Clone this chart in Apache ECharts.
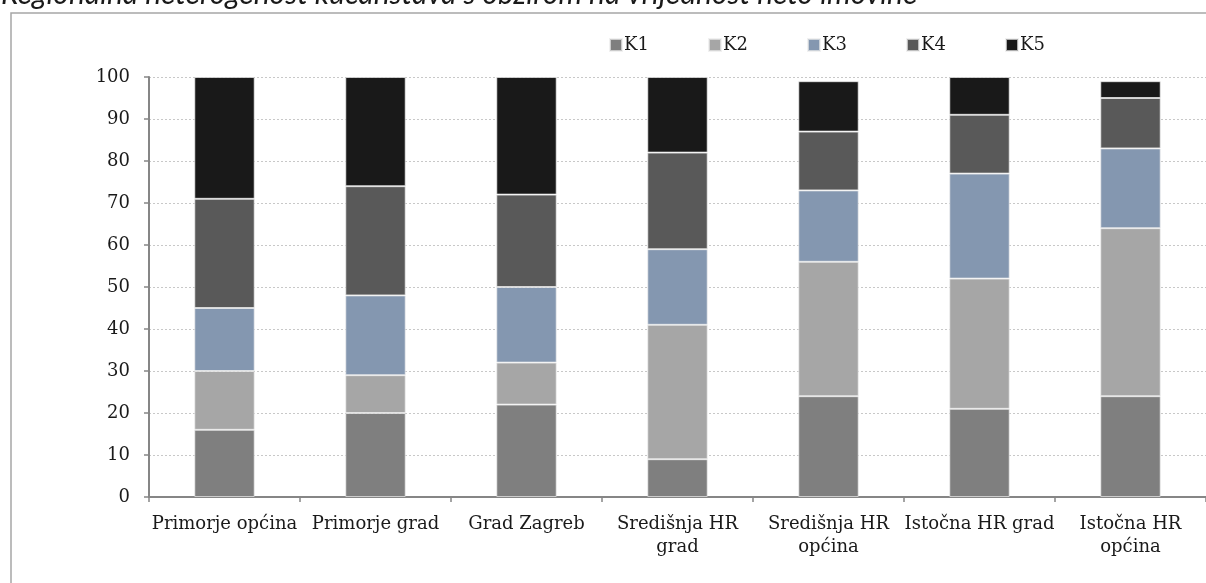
<!DOCTYPE html>
<html>
<head>
<meta charset="utf-8">
<script src="https://cdn.jsdelivr.net/npm/echarts@6/dist/echarts.min.js"></script>
<style>
  html, body { margin: 0; padding: 0; background: #ffffff; }
  #main { width: 1206px; height: 583px; }
</style>
</head>
<body>
<div id="main"></div>
<script>
// kategorije (regije)
var categories = ['Primorje općina', 'Primorje grad', 'Grad Zagreb', 'Središnja HR\ngrad',
  'Središnja HR\nopćina', 'Istočna HR grad', 'Istočna HR\nopćina'];

// udjeli po kvintilima (%)
var k1 = [16, 20, 22, 9, 24, 21, 24];
var k2 = [14, 9, 10, 32, 32, 31, 40];
var k3 = [15, 19, 18, 18, 17, 25, 19];
var k4 = [26, 26, 22, 23, 14, 14, 12];
var k5 = [29, 26, 28, 18, 12, 9, 4];

var seriesNames = ['K1', 'K2', 'K3', 'K4', 'K5'];
var seriesColors = ['#7f7f7f', '#a6a6a6', '#8497b0', '#595959', '#191919'];
var yTicks = [0, 10, 20, 30, 40, 50, 60, 70, 80, 90, 100];

var chart = echarts.init(document.getElementById('main'), null, { renderer: 'canvas' });

var allData = [k1, k2, k3, k4, k5];
var series = [];
var legends = [];
for (var i = 0; i < seriesNames.length; i++) {
  series.push({
    name: seriesNames[i],
    type: 'bar',
    stack: 'ukupno',
    barWidth: '40%',
    data: allData[i],
    itemStyle: {
      color: seriesColors[i],
      borderColor: 'rgba(235,235,235,0.7)',
      borderWidth: 1
    }
  });
  // svaka stavka legende posebno, razmak ~99px
  legends.push({
    data: [seriesNames[i]],
    left: 604 + i * 99,
    top: 31,
    icon: 'rect',
    itemWidth: 12,
    itemHeight: 12,
    itemGap: 0,
    textStyle: { fontFamily: 'DejaVu Serif', fontSize: 18, color: '#1a1a1a', padding: [0, 0, 0, -3] }
  });
}

var option = {
  backgroundColor: '#ffffff',
  animation: false,
  textStyle: { fontFamily: 'DejaVu Serif' },
  graphic: [{
    type: 'rect',
    shape: { x: 11, y: 13, width: 1300, height: 700 },
    style: { fill: 'none', stroke: '#a6a6a6', lineWidth: 1.5 },
    silent: true
  }, {
    // naslov je u izvorniku odrezan na vrhu
    type: 'text',
    x: 1,
    y: 9,
    style: {
      text: 'Regionalna heterogenost kućanstava s obzirom na vrijednost neto imovine',
      font: 'italic 30px Lato',
      fill: '#1a1a1a',
      verticalAlign: 'bottom'
    },
    silent: true
  }],
  legend: legends,
  grid: {
    left: 149,
    top: 77,
    width: 1059,
    height: 420,
    containLabel: false
  },
  xAxis: {
    type: 'category',
    data: categories,
    boundaryGap: true,
    axisLine: { lineStyle: { color: '#868686', width: 2 } },
    axisTick: { show: true, length: 5, lineStyle: { color: '#868686', width: 1.5 } },
    axisLabel: {
      interval: 0,
      margin: 16,
      fontFamily: 'DejaVu Serif',
      fontSize: 18,
      lineHeight: 23,
      color: '#1a1a1a'
    }
  },
  yAxis: {
    type: 'value',
    min: yTicks[0],
    max: yTicks[yTicks.length - 1],
    interval: 10,
    axisLine: { show: true, lineStyle: { color: '#868686', width: 2 } },
    axisTick: { show: true, length: 5, lineStyle: { color: '#868686', width: 1.5 } },
    axisLabel: {
      margin: 19,
      fontFamily: 'DejaVu Serif',
      fontSize: 18,
      color: '#1a1a1a'
    },
    splitLine: { lineStyle: { color: '#c8c8c8', type: [2, 2], width: 1 } }
  },
  series: series
};

chart.setOption(option);
</script>
</body>
</html>
